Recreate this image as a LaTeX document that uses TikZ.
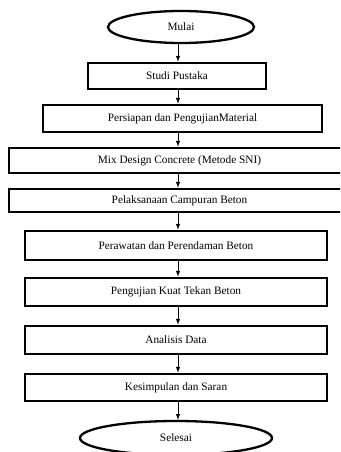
\documentclass[tikz,border=0pt]{standalone}
\usepackage{fontspec}
\setmainfont{Liberation Serif}
\usetikzlibrary{calc, positioning, arrows, shapes.geometric}

\begin{document}
\begin{tikzpicture}[x=1pt,y=-1pt,
every node/.style={font=\fontsize{11.3}{13}\selectfont},
box/.style={draw,rectangle,line width=2.6pt,inner sep=0pt},
oval/.style={draw,ellipse,line width=2.3pt,inner sep=0pt},
arr/.style={-latex,line width=1pt}]
\useasboundingbox (0,0) rectangle (340,452);
\clip (0,0) rectangle (340,452);

\node[oval,minimum width=146pt,minimum height=32pt] (mulai) at (181,27) {Mulai};
\node[box,minimum width=178pt,minimum height=26pt] (studi) at (177,76) {Studi Pustaka};
\node[box,minimum width=279pt,minimum height=27pt] (persiapan) at (182.5,118.5) {Persiapan dan PengujianMaterial};
\node[box,minimum width=341pt,minimum height=25pt] (mix) at (179.5,160.5) {Mix Design Concrete (Metode SNI)};
\node[box,minimum width=341pt,minimum height=23pt] (pelaksanaan) at (179.5,200.5) {Pelaksanaan Campuran Beton};
\node[box,minimum width=302pt,minimum height=29pt] (perawatan) at (176,245.5) {Perawatan dan Perendaman Beton};
\node[box,minimum width=302pt,minimum height=28pt] (pengujian) at (176,292) {Pengujian Kuat Tekan Beton};
\node[box,minimum width=302pt,minimum height=28pt] (analisis) at (176,340) {Analisis Data};
\node[box,minimum width=302pt,minimum height=27pt] (kesimpulan) at (176,387.5) {Kesimpulan dan Saran};
\node[oval,minimum width=192pt,minimum height=34pt] (selesai) at (176,438) {Selesai};

\coordinate (axis) at (178,0);
\draw[arr] (mulai.south -| axis) -- (studi.north -| axis);
\draw[arr] (studi.south -| axis) -- (persiapan.north -| axis);
\draw[arr] (persiapan.south -| axis) -- (mix.north -| axis);
\draw[arr] (mix.south -| axis) -- (pelaksanaan.north -| axis);
\draw[arr] (pelaksanaan.south -| axis) -- (perawatan.north -| axis);
\draw[arr] (perawatan.south -| axis) -- (pengujian.north -| axis);
\draw[arr] (pengujian.south -| axis) -- (analisis.north -| axis);
\draw[arr] (analisis.south -| axis) -- (kesimpulan.north -| axis);
\draw[arr] (kesimpulan.south -| axis) -- (selesai.north -| axis);
\end{tikzpicture}
\end{document}
